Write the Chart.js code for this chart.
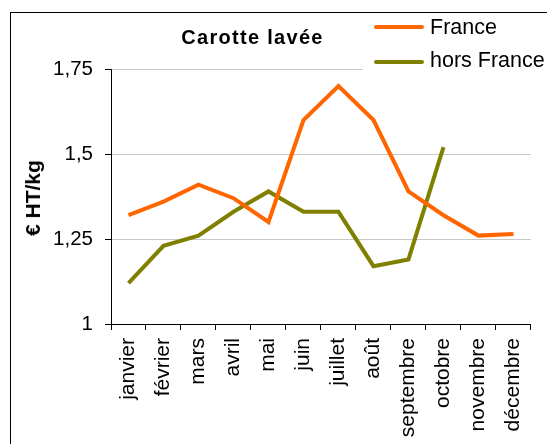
<!DOCTYPE html>
<html>
<head>
<meta charset="utf-8">
<script src="https://cdn.jsdelivr.net/npm/chart.js@4/dist/chart.umd.min.js"></script>
<style>
  html, body { margin:0; padding:0; background:#fff; overflow:hidden; }
  #wrap { position:relative; width:547px; height:444px; overflow:hidden; font-family:"Liberation Sans", Arial, sans-serif; }
  #frame { position:absolute; left:10px; top:12px; width:600px; height:500px; border:1.5px solid #000; box-sizing:border-box; }
  #cv { position:absolute; left:0; top:0; }
  #title { position:absolute; left:0; width:505px; top:24.5px; line-height:24px; text-align:center; font-weight:bold; font-size:20px; letter-spacing:1.3px; color:#000; }
  #ytitle { position:absolute; left:32.5px; top:198px; transform:translate(-50%,-50%) rotate(-90deg); font-weight:bold; font-size:21px; line-height:24px; white-space:nowrap; color:#000; }
  #legend { position:absolute; left:363px; top:14px; width:184px; height:60px; background:#fff; }
  .sw { position:absolute; left:11px; width:50px; height:4px; border-radius:2px; }
  .lt { position:absolute; left:67px; font-size:21.5px; line-height:24px; white-space:nowrap; color:#000; }
</style>
</head>
<body>
<div id="wrap">
  <div id="frame"></div>
  <canvas id="cv" width="547" height="444"></canvas>
  <div id="title">Carotte lavée</div>
  <div id="ytitle">€ HT/kg</div>
  <div id="legend"></div>
</div>
<script>
const months = ['janvier','février','mars','avril','mai','juin','juillet','août','septembre','octobre','novembre','décembre'];
const france = [1.32, 1.36, 1.41, 1.37, 1.30, 1.60, 1.70, 1.60, 1.39, 1.32, 1.26, 1.265];
const horsFrance = [1.12, 1.23, 1.26, 1.33, 1.39, 1.33, 1.33, 1.17, 1.19, 1.52, null, null];
const yTickValues = [1, 1.25, 1.5, 1.75];
const yTickLabels = ['1', '1,25', '1,5', '1,75'];
const seriesNames = ['France', 'hors France'];
const seriesColors = ['#FF6600', '#808000'];

const FONT = '"Liberation Sans", Arial, sans-serif';

// legend (HTML)
const lg = document.getElementById('legend');
const swTops = [11.3, 45.7];
const txtTops = [0.5, 33.8];
seriesNames.forEach((n, i) => {
  const sw = document.createElement('div');
  sw.className = 'sw';
  sw.style.background = seriesColors[i];
  sw.style.top = swTops[i] + 'px';
  lg.appendChild(sw);
  const t = document.createElement('div');
  t.className = 'lt';
  t.textContent = n;
  t.style.top = txtTops[i] + 'px';
  lg.appendChild(t);
});

new Chart(document.getElementById('cv'), {
  type: 'line',
  data: {
    labels: months,
    datasets: [
      { label: seriesNames[0], data: france, borderColor: seriesColors[0], backgroundColor: seriesColors[0], borderWidth: 4, pointRadius: 0, tension: 0, spanGaps: false },
      { label: seriesNames[1], data: horsFrance, borderColor: seriesColors[1], backgroundColor: seriesColors[1], borderWidth: 4, pointRadius: 0, tension: 0, spanGaps: false }
    ]
  },
  options: {
    responsive: false,
    animation: false,
    devicePixelRatio: 1,
    layout: { padding: { left: 0, right: 8, top: 69, bottom: 0 } },
    plugins: { legend: { display: false }, title: { display: false }, tooltip: { enabled: false } },
    scales: {
      x: {
        offset: true,
        grid: { offset: true, drawOnChartArea: false, tickLength: 6, tickColor: '#000', lineWidth: 1 },
        border: { color: '#000', width: 1 },
        ticks: { autoSkip: false, maxRotation: 90, minRotation: 90, padding: 8, color: '#000', font: { family: FONT, size: 21 } },
        afterFit: s => { s.height = 120; }
      },
      y: {
        min: 1, max: 1.75,
        afterBuildTicks: s => { s.ticks = yTickValues.map(v => ({ value: v })); },
        grid: { color: '#c8c8c8', tickColor: '#000', tickLength: 6, lineWidth: 1 },
        border: { color: '#000', width: 1 },
        ticks: { padding: 12, color: '#000', font: { family: FONT, size: 20.5 }, callback: (v, i) => yTickLabels[i] },
        afterFit: s => { s.width = 111; }
      }
    }
  }
});
</script>
</body>
</html>
